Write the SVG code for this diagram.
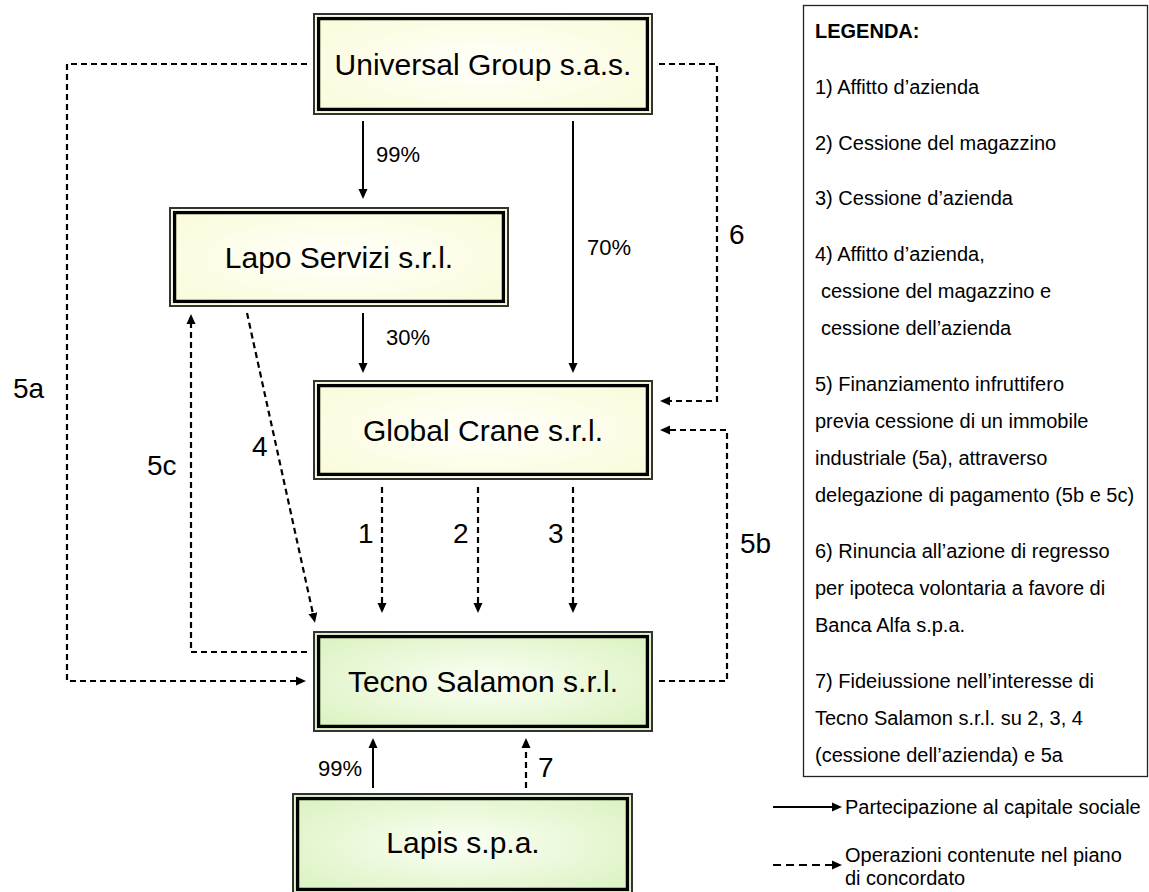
<svg xmlns="http://www.w3.org/2000/svg" width="1149" height="892" viewBox="0 0 1149 892">
<style>
text{font-family:"Liberation Sans",Arial,sans-serif;fill:#000}
.lbl{font-size:30px;text-anchor:middle}
.num{font-size:28px}
.pct{font-size:22px}
.leg{font-size:20px}
.legb{font-size:20px;font-weight:bold}
.outer{fill:none;stroke:#333;stroke-width:2}
.inner{fill:none;stroke:#000;stroke-width:3.3}
.solid{fill:none;stroke:#000;stroke-width:2}
.dash{fill:none;stroke:#000;stroke-width:2.2;stroke-dasharray:6 4}
.dashl{fill:none;stroke:#000;stroke-width:2.2;stroke-dasharray:8 5}
</style>
<defs>
<radialGradient id="gy" cx="50%" cy="50%" r="60%">
<stop offset="0" stop-color="#FFFFFB"/><stop offset="1" stop-color="#FBFBDC"/>
</radialGradient>
<radialGradient id="gg" cx="50%" cy="50%" r="60%">
<stop offset="0" stop-color="#FBFFF5"/><stop offset="1" stop-color="#DDF3C4"/>
</radialGradient>
<marker id="ah" markerUnits="userSpaceOnUse" markerWidth="11" markerHeight="10" refX="4" refY="5" orient="auto">
<path d="M0,0.5 L10,5 L0,9.5 z" fill="#000"/>
</marker>
</defs>

<g id="universal">
<rect x="313" y="13" width="340" height="102" fill="url(#gy)"/>
<rect class="outer" x="314" y="14" width="338" height="100"/>
<rect class="inner" x="318.6" y="18.6" width="328.8" height="90.8"/>
<text class="lbl" x="483" y="75">Universal Group s.a.s.</text>
</g>
<g id="lapo">
<rect x="169" y="207" width="340" height="100" fill="url(#gy)"/>
<rect class="outer" x="170" y="208" width="338" height="98"/>
<rect class="inner" x="174.6" y="212.6" width="328.8" height="88.8"/>
<text class="lbl" x="339" y="268">Lapo Servizi s.r.l.</text>
</g>
<g id="global">
<rect x="313" y="380" width="340" height="100" fill="url(#gy)"/>
<rect class="outer" x="314" y="381" width="338" height="98"/>
<rect class="inner" x="318.6" y="385.6" width="328.8" height="88.8"/>
<text class="lbl" x="483" y="441">Global Crane s.r.l.</text>
</g>
<g id="tecno">
<rect x="313" y="631" width="340" height="101" fill="url(#gg)"/>
<rect class="outer" x="314" y="632" width="338" height="99"/>
<rect class="inner" x="318.6" y="636.6" width="328.8" height="89.8"/>
<text class="lbl" x="483" y="692">Tecno Salamon s.r.l.</text>
</g>
<g id="lapis">
<rect x="292" y="793" width="341" height="102" fill="url(#gg)"/>
<rect class="outer" x="293" y="794" width="339" height="100"/>
<rect class="inner" x="297.6" y="798.6" width="329.8" height="90.8"/>
<text class="lbl" x="463" y="853">Lapis s.p.a.</text>
</g>

<g id="connectors">
<line class="solid" x1="363" y1="121" x2="363" y2="193" marker-end="url(#ah)"/>
<line class="solid" x1="573" y1="121" x2="573" y2="367" marker-end="url(#ah)"/>
<line class="solid" x1="363" y1="313" x2="363" y2="367" marker-end="url(#ah)"/>
<line class="dash" x1="382" y1="487" x2="382" y2="607" marker-end="url(#ah)"/>
<line class="dash" x1="478" y1="487" x2="478" y2="607" marker-end="url(#ah)"/>
<line class="dash" x1="573" y1="487" x2="573" y2="607" marker-end="url(#ah)"/>
<line class="solid" x1="373" y1="788" x2="373" y2="744" marker-end="url(#ah)"/>
<line class="dash" x1="526" y1="788" x2="526" y2="744" marker-end="url(#ah)"/>
<polyline class="dash" points="307,64 67,64 67,681 300,681" marker-end="url(#ah)"/>
<polyline class="dash" points="307,652 191,652 191,320" marker-end="url(#ah)"/>
<line class="dash" x1="247" y1="313" x2="313.7" y2="617" marker-end="url(#ah)"/>
<polyline class="dash" points="659,64 717,64 717,401 666,401" marker-end="url(#ah)"/>
<polyline class="dash" points="659,681 727,681 727,430 666,430" marker-end="url(#ah)"/>
<text class="pct" x="376" y="162">99%</text>
<text class="pct" x="587" y="255">70%</text>
<text class="pct" x="386" y="345">30%</text>
<text class="pct" x="318" y="776">99%</text>
<text class="num" x="358" y="543">1</text>
<text class="num" x="453" y="543">2</text>
<text class="num" x="548" y="543">3</text>
<text class="num" x="538" y="777">7</text>
<text class="num" x="13" y="398">5a</text>
<text class="num" x="147" y="475">5c</text>
<text class="num" x="252" y="456">4</text>
<text class="num" x="729" y="244">6</text>
<text class="num" x="740" y="553">5b</text>
</g>

<g id="legend">
<rect x="803.5" y="5.5" width="344" height="771" fill="#fff" stroke="#222" stroke-width="1.3"/>
<text class="legb" x="815" y="38">LEGENDA:</text>
<text class="leg" x="815" y="94">1) Affitto d’azienda</text>
<text class="leg" x="815" y="150">2) Cessione del magazzino</text>
<text class="leg" x="815" y="205">3) Cessione d’azienda</text>
<text class="leg" x="815" y="261">4) Affitto d’azienda,</text>
<text class="leg" x="821" y="298">cessione del magazzino e</text>
<text class="leg" x="821" y="335">cessione dell’azienda</text>
<text class="leg" x="815" y="391">5) Finanziamento infruttifero</text>
<text class="leg" x="815" y="428">previa cessione di un immobile</text>
<text class="leg" x="815" y="465">industriale (5a), attraverso</text>
<text class="leg" x="815" y="502">delegazione di pagamento (5b e 5c)</text>
<text class="leg" x="815" y="558">6) Rinuncia all’azione di regresso</text>
<text class="leg" x="815" y="595">per ipoteca volontaria a favore di</text>
<text class="leg" x="815" y="632">Banca Alfa s.p.a.</text>
<text class="leg" x="815" y="688">7) Fideiussione nell’interesse di</text>
<text class="leg" x="815" y="725">Tecno Salamon s.r.l. su 2, 3, 4</text>
<text class="leg" x="815" y="762">(cessione dell’azienda) e 5a</text>
<line class="solid" x1="773" y1="807" x2="836" y2="807" marker-end="url(#ah)"/>
<text class="leg" x="845" y="814">Partecipazione al capitale sociale</text>
<line class="dashl" x1="773" y1="865" x2="836" y2="865" marker-end="url(#ah)"/>
<text class="leg" x="845" y="862">Operazioni contenute nel piano</text>
<text class="leg" x="845" y="885">di concordato</text>
</g>
</svg>
